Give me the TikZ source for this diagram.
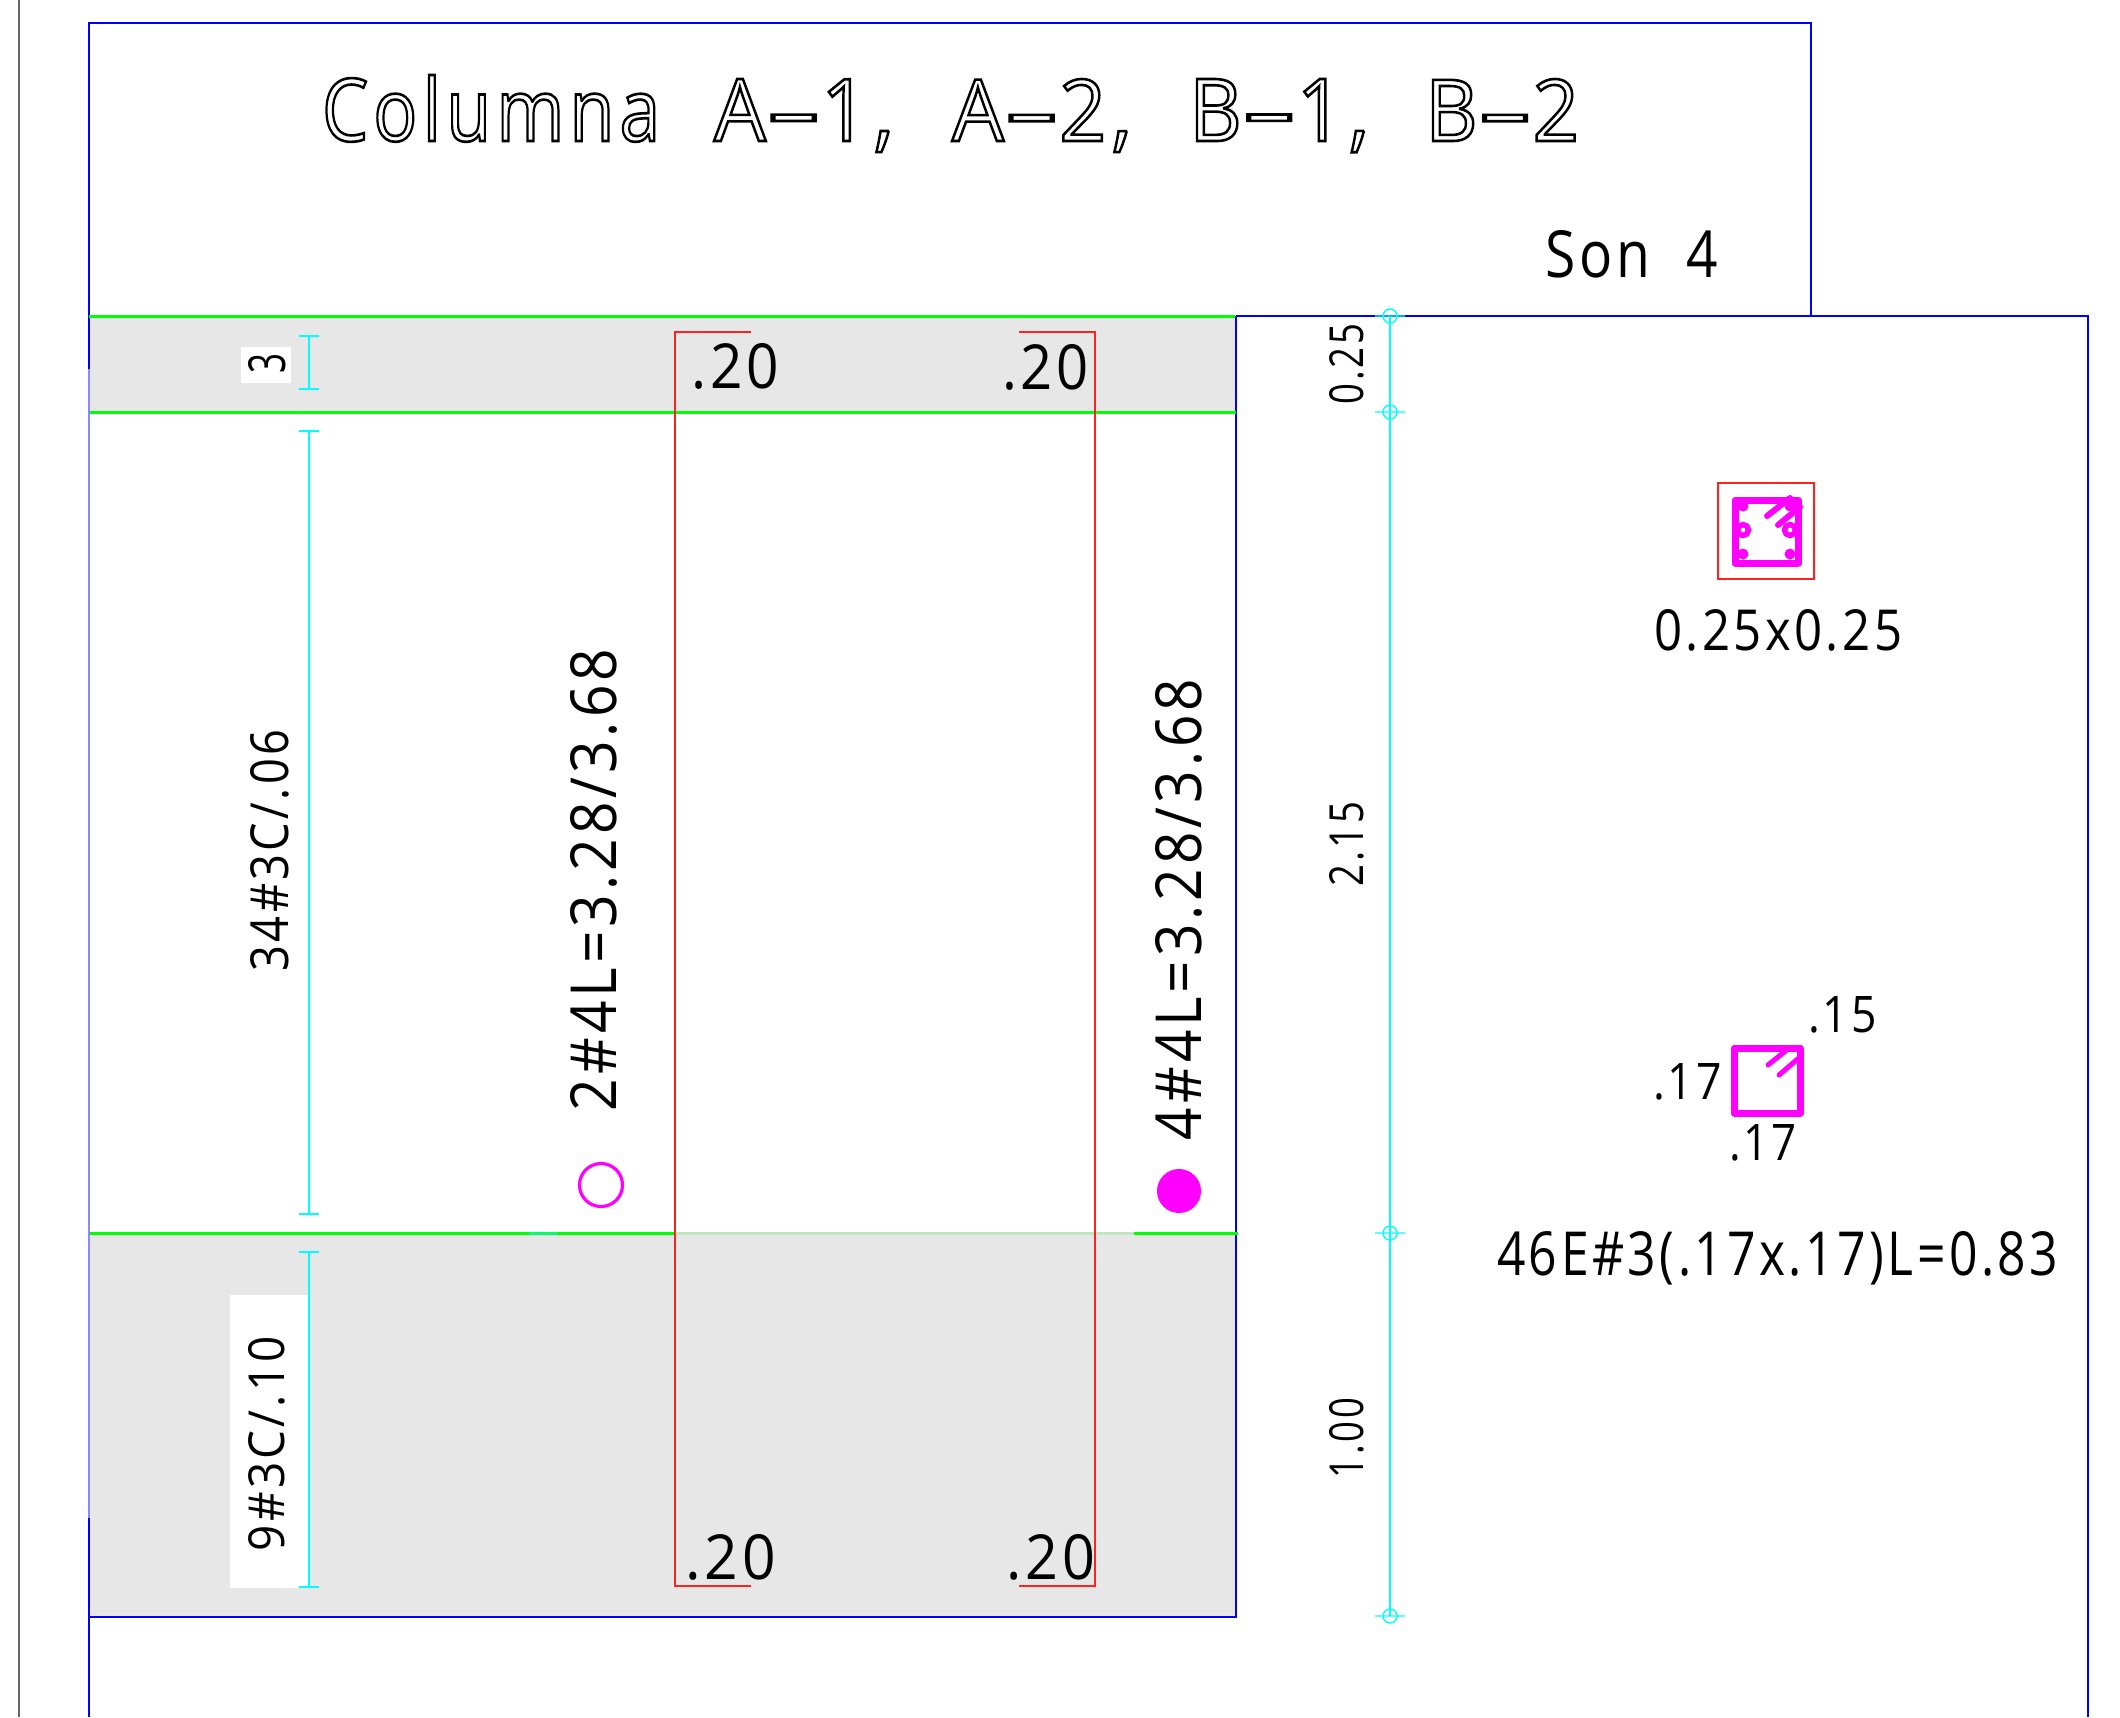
\documentclass[tikz,border=0pt]{standalone}
\usepackage{fontspec}
\usepackage{graphicx}
\setmainfont[LetterSpace=7]{Open Sans}
\definecolor{bandgrey}{HTML}{E7E7E7}
\definecolor{cadblue}{HTML}{0000FF}
\definecolor{paleblue}{HTML}{8888FF}
\definecolor{cadgreen}{HTML}{00FF00}
\definecolor{palegreen}{HTML}{C0E8C0}
\definecolor{cadcyan}{HTML}{00FFFF}
\definecolor{cadred}{HTML}{FF2020}
\definecolor{cadmag}{HTML}{FF00FF}
% \Tx{x}{baseline y}{width}{height}{text}
\newcommand{\Tx}[5]{\node[txt] at (#1,#2) {\resizebox{#3pt}{#4pt}{#5}};}
\newcommand{\Rx}[5]{\node[txt,rotate=90] at (#1,#2) {\resizebox{#3pt}{#4pt}{#5}};}
\newcommand{\Hol}[1]{\special{pdf:code 1 Tr 0.3 w}#1\special{pdf:code 0 Tr}}
\newcommand{\Hy}{\scalebox{2.1}[1]{-}}
\tikzset{
  txt/.style={anchor=base west,inner sep=0pt,outer sep=0pt,text=black},
  bluel/.style={draw=cadblue,line width=2.6pt},
  greenl/.style={draw=cadgreen,line width=3pt},
  redl/.style={draw=cadred,line width=1.1pt},
  cyanl/.style={draw=cadcyan,line width=1.4pt},
  magl/.style={draw=cadmag,line width=7pt,line join=round,line cap=round},
}
\begin{document}
\begin{tikzpicture}[x=1pt,y=-1pt]
\useasboundingbox (0,0) rectangle (2120,1717);
\fill[white] (0,0) rectangle (2120,1717);
% grey bands
\fill[bandgrey] (90,316) rectangle (1236,412);
\fill[bandgrey] (90,1233) rectangle (1236,1617);
% white label backgrounds
\fill[white] (241,347) rectangle (291,383);
\fill[white] (230,1295) rectangle (308,1588);
% frame lines
\draw[gray!80!black,line width=1.5pt] (19,0) -- (19,1717);
\draw[bluel] (89,369) -- (89,23) -- (1811,23) -- (1811,316);
\draw[bluel] (89,1518) -- (89,1717);
\draw[draw=paleblue,line width=2.4pt] (89,369) -- (89,1518);
\draw[bluel] (1236,316) -- (2088,316) -- (2088,1717);
\draw[bluel] (1236,316) -- (1236,1617) -- (89,1617);
% green lines
\draw[greenl] (89,316) -- (1235,316);
\draw[greenl] (90,412) -- (1236,412);
\draw[greenl] (90,1233) -- (675,1233);
\draw[draw=palegreen,line width=3pt] (675,1233) -- (1134,1233);
\draw[greenl] (1134,1233) -- (1238,1233);
\draw[draw=cadgreen!60!cadcyan,line width=3pt] (529,1233) -- (558,1233);
% red rectangle
\draw[redl] (751,332) -- (675,332) -- (675,1586) -- (751,1586);
\draw[redl] (1019,332) -- (1095,332) -- (1095,1586) -- (1019,1586);
% left dimension
\draw[cyanl] (299,336) -- (319,336) (309,336) -- (309,389) (299,389) -- (319,389);
\draw[cyanl] (299,431) -- (319,431) (309,431) -- (309,1214) (299,1214) -- (319,1214);
\draw[cyanl] (299,1252) -- (319,1252) (309,1252) -- (309,1587) (299,1587) -- (319,1587);
% right dimension
\draw[cyanl] (1390,316) -- (1390,1616);
\foreach \yy in {316,412,1233,1616}{
  \draw[cyanl] (1390,\yy) circle[radius=7pt] (1375,\yy) -- (1405,\yy);
}
% bars
\draw[draw=cadmag,line width=3.2pt] (601,1185) circle[radius=21.5pt];
\fill[cadmag] (1179,1191) circle[radius=22pt];
% upper section icon
\draw[draw=cadred,line width=1.1pt] (1718,483) rectangle (1814,579);
\draw[magl] (1735,500) rectangle (1798,563);
\fill[cadmag] (1743,506) circle[radius=5.5pt] (1743,554) circle[radius=5.5pt] (1790,554) circle[radius=5.5pt] (1790,506) circle[radius=5.5pt];
\draw[draw=cadmag,line width=5.5pt] (1743,530) circle[radius=5.5pt] (1790,530) circle[radius=5.5pt];
\draw[draw=cadmag,line width=6pt,line cap=round] (1767,516) -- (1790,498) (1778,525) -- (1800,507);
% lower stirrup icon
\draw[magl] (1734,1048) rectangle (1800,1113);
\draw[draw=cadmag,line width=5pt,line cap=round] (1768,1065) -- (1788,1049) (1779,1075) -- (1800,1057);
% title words
\Tx{322}{141}{338}{66}{\Hol{Columna}}
\Tx{714}{141}{180}{62}{\Hol{A\Hy1,}}
\Tx{952}{141}{180}{62}{\Hol{A\Hy2,}}
\Tx{1189}{141}{180}{62}{\Hol{B\Hy1,}}
\Tx{1425}{141}{154}{62}{\Hol{B\Hy2}}
% texts
\Tx{1545}{277}{173}{47}{Son\ \ 4}
\Tx{691}{388}{88}{45}{.20}
\Tx{1002}{389}{87}{45}{.20}
\Tx{685}{1579}{91}{45}{.20}
\Tx{1006}{1579}{89}{45}{.20}
\Tx{1654}{650}{248}{41}{0.25x0.25}
\Tx{1808}{1032}{69}{36}{.15}
\Tx{1653}{1099}{69}{36}{.17}
\Tx{1729}{1160}{68}{36}{.17}
\Tx{1497}{1275}{561}{44}{46E\#3(.17x.17)L=0.83}
\Rx{285}{373}{20}{37}{3}
\Rx{288}{971}{241}{38}{34\#3C/.06}
\Rx{284}{1551}{215}{36}{9\#3C/.10}
\Rx{616}{1111}{462}{46}{2\#4L=3.28/3.68}
\Rx{1201}{1140}{461}{46}{4\#4L=3.28/3.68}
\Rx{1363}{404}{80}{34}{0.25}
\Rx{1363}{886}{84}{34}{2.15}
\Rx{1363}{1478}{80}{34}{1.00}
\end{tikzpicture}
\end{document}
